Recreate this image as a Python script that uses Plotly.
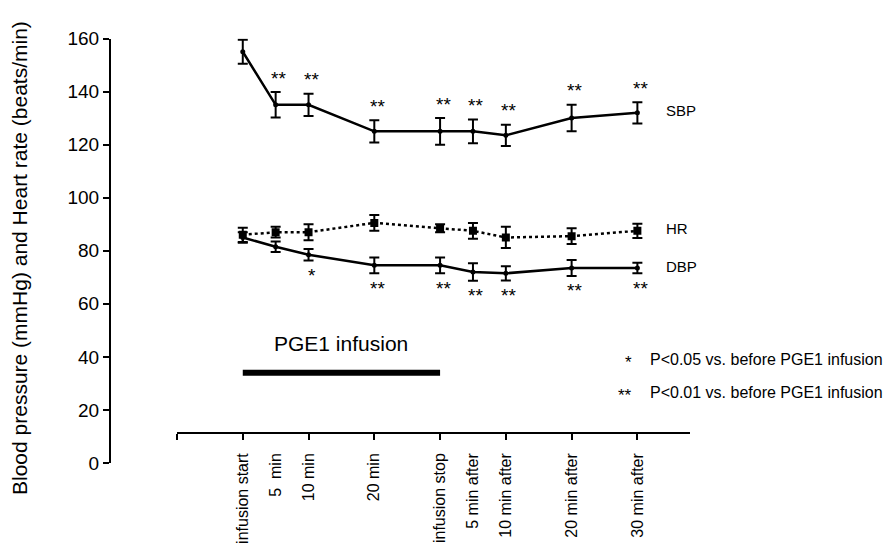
import plotly.graph_objects as go

# ---- data ----
time_min = [0, 5, 10, 20, 30, 35, 40, 50, 60]
time_labels = ["infusion start", "5  min", "10 min", "20 min", "infusion stop",
               "5 min after", "10 min after", "20 min after", "30 min after"]
sbp = [155, 135, 135, 125, 125, 125, 123.5, 130, 132]
sbp_err = [4.5, 4.8, 4.2, 4.2, 5, 4.5, 4, 5, 4]
dbp = [85, 81.5, 78.5, 74.5, 74.5, 72, 71.5, 73.5, 73.5]
dbp_err = [2, 2, 2.2, 3, 3, 3.3, 2.7, 3, 2]
hr = [86, 87, 87, 90.5, 88.5, 87.5, 85, 85.5, 87.5]
hr_err = [2.7, 2, 3, 3, 1.5, 3, 4, 3, 2.7]
sbp_sig = ["", "**", "**", "**", "**", "**", "**", "**", "**"]
dbp_sig = ["", "", "*", "**", "**", "**", "**", "**", "**"]
x_ticks = [-10, 0, 10, 20, 30, 40, 50, 60]
y_ticks = [0, 20, 40, 60, 80, 100, 120, 140, 160]

FONT = "Liberation Sans, Arial, sans-serif"
W, H = 895, 549
OFF = 8  # page body margin


def fx(p):
    return (p - OFF) / W


def fy(p):
    return 1 - (p - OFF) / H


fig = go.Figure()


def err(vals):
    return dict(type="data", array=vals, visible=True, color="black", thickness=2, width=5)


fig.add_trace(go.Scatter(x=time_min, y=hr, mode="lines+markers",
                         line=dict(color="black", width=2.5, dash="dot"),
                         marker=dict(symbol="square", size=8, color="black"),
                         error_y=err(hr_err), showlegend=False))
fig.add_trace(go.Scatter(x=time_min, y=sbp, mode="lines+markers",
                         line=dict(color="black", width=2.5),
                         marker=dict(symbol="circle", size=5, color="black"),
                         error_y=err(sbp_err), showlegend=False))
fig.add_trace(go.Scatter(x=time_min, y=dbp, mode="lines+markers",
                         line=dict(color="black", width=2.5),
                         marker=dict(symbol="circle", size=5, color="black"),
                         error_y=err(dbp_err), showlegend=False))

# significance stars
STAR = dict(family=FONT, size=19, color="black")
for t, v, e, s in zip(time_min, sbp, sbp_err, sbp_sig):
    if s:
        fig.add_annotation(x=t, y=v + e, xref="x", yref="y", text=s, showarrow=False,
                           xanchor="center", yanchor="middle", yshift=14, xshift=3, font=STAR)
for t, v, e, s in zip(time_min, dbp, dbp_err, dbp_sig):
    if s:
        fig.add_annotation(x=t, y=v - e, xref="x", yref="y", text=s, showarrow=False,
                           xanchor="center", yanchor="middle", yshift=-15, xshift=3, font=STAR)

# PGE1 infusion bar
bar_level = 34
fig.add_trace(go.Scatter(x=[time_min[0], time_min[4]], y=[bar_level, bar_level], mode="lines",
                         line=dict(color="black", width=6), showlegend=False))

fig.add_annotation(x=(time_min[0] + time_min[4]) / 2, y=45, xref="x", yref="y",
                   text="PGE1 infusion", showarrow=False,
                   font=dict(family=FONT, size=21, color="black"))

# series labels
for name, series in (("SBP", sbp), ("HR", hr), ("DBP", dbp)):
    fig.add_annotation(x=time_min[-1], y=series[-1], xref="x", yref="y", text=name,
                       showarrow=False, xanchor="left", xshift=27, yshift=2,
                       font=dict(family=FONT, size=15, color="black"))

# footnote
for ypix, stars, txt in ((359, "*", "P<0.05 vs. before PGE1 infusion"),
                         (392, "**", "P<0.01 vs. before PGE1 infusion")):
    fig.add_annotation(x=fx(634), y=fy(ypix + 3), xref="paper", yref="paper", text=stars,
                       showarrow=False, xanchor="right", yanchor="middle",
                       font=dict(family=FONT, size=17, color="black"))
    fig.add_annotation(x=fx(648), y=fy(ypix), xref="paper", yref="paper", text=txt,
                       showarrow=False, xanchor="left", yanchor="middle",
                       font=dict(family=FONT, size=16, color="black"))

# y title
fig.add_annotation(x=fx(19), y=fy(258), xref="paper", yref="paper",
                   text="Blood pressure (mmHg) and Heart rate (beats/min)", textangle=-90,
                   showarrow=False, xanchor="center", yanchor="middle",
                   font=dict(family=FONT, size=21, color="black"))

x_dom = [fx(177), fx(690)]
x_pos = fy(433)
xr = [-10, 68]

fig.update_layout(
    width=W, height=H, template="none",
    paper_bgcolor="white", plot_bgcolor="white",
    margin=dict(l=0, r=0, t=0, b=0),
    font=dict(family=FONT, color="black"),
    xaxis=dict(domain=x_dom, range=xr, anchor="free", position=x_pos,
               tickvals=x_ticks, showticklabels=False, ticks="outside", ticklen=6,
               tickwidth=2, tickcolor="black", showline=True, linewidth=2, linecolor="black",
               showgrid=False, zeroline=False, automargin=False),
    xaxis2=dict(domain=x_dom, range=xr, anchor="free", position=x_pos, overlaying="x",
                side="bottom", tickvals=time_min, ticktext=time_labels, tickangle=-90,
                ticks="", showline=False, showgrid=False, zeroline=False, automargin=False,
                ticklabelstandoff=16, tickfont=dict(family=FONT, size=16, color="black")),
    yaxis=dict(domain=[fy(463), fy(38.5)], range=[0, 160], anchor="free",
               position=fx(110), tickvals=y_ticks, ticks="outside", ticklen=6, tickwidth=2,
               tickcolor="black", showline=True, linewidth=2, linecolor="black",
               showgrid=False, zeroline=False, automargin=False,
               tickfont=dict(family=FONT, size=19, color="black")),
)

# dummy trace so that xaxis2 labels are drawn
fig.add_trace(go.Scatter(x=[time_min[0]], y=[None], xaxis="x2", yaxis="y",
                         showlegend=False, hoverinfo="skip"))

fig.write_html("out.html")
